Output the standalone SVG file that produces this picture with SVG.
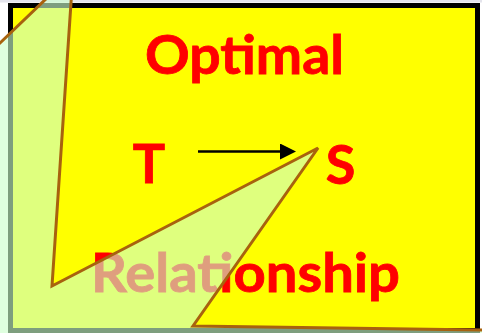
<svg xmlns="http://www.w3.org/2000/svg" width="482" height="333" viewBox="0 0 482 333">
<style>
.lbl{font-family:Lato,"Open Sans","Liberation Sans",sans-serif;font-weight:bold;font-size:54px;fill:#ff0000;stroke:#ff0000;stroke-width:0.8}
.edge{stroke:#000;stroke-width:2.5;fill:none}
</style>
<defs>
<marker id="ah" markerUnits="userSpaceOnUse" markerWidth="16" markerHeight="16" viewBox="0 0 14 14" refX="0" refY="7" orient="auto">
<path d="M0,0 L14,7 L0,14 Z" fill="#000"/>
</marker>
</defs>
<rect x="0" y="0" width="482" height="333" fill="#ffffff"/>
<rect x="0" y="0" width="482" height="2.5" fill="#e4e4ec"/>
<g id="frame">
<rect x="10.5" y="5.5" width="467" height="325" fill="#ffff00" stroke="#000" stroke-width="5"/>
</g>
<g id="label-optimal"><text class="lbl" x="145" y="74" textLength="199" lengthAdjust="spacingAndGlyphs">Optimal</text></g>
<g id="node-T"><text class="lbl" x="149" y="183" text-anchor="middle">T</text></g>
<g id="node-S"><text class="lbl" x="340.5" y="184" text-anchor="middle">S</text></g>
<g id="label-relationship"><text class="lbl" x="91" y="292" textLength="309" lengthAdjust="spacingAndGlyphs">Relationship</text></g>
<g id="connectors">
<line class="edge" x1="198" y1="151.5" x2="280" y2="151.5" marker-end="url(#ah)"/>
</g>
<g id="overlay">
<polygon points="73,-27 52,286 318,148 193,326 490,330 490,345 -10,345 -10,52.6" fill="#ccffcc" fill-opacity="0.62" stroke="#a8620e" stroke-width="3" stroke-linejoin="miter"/>
</g>
</svg>
